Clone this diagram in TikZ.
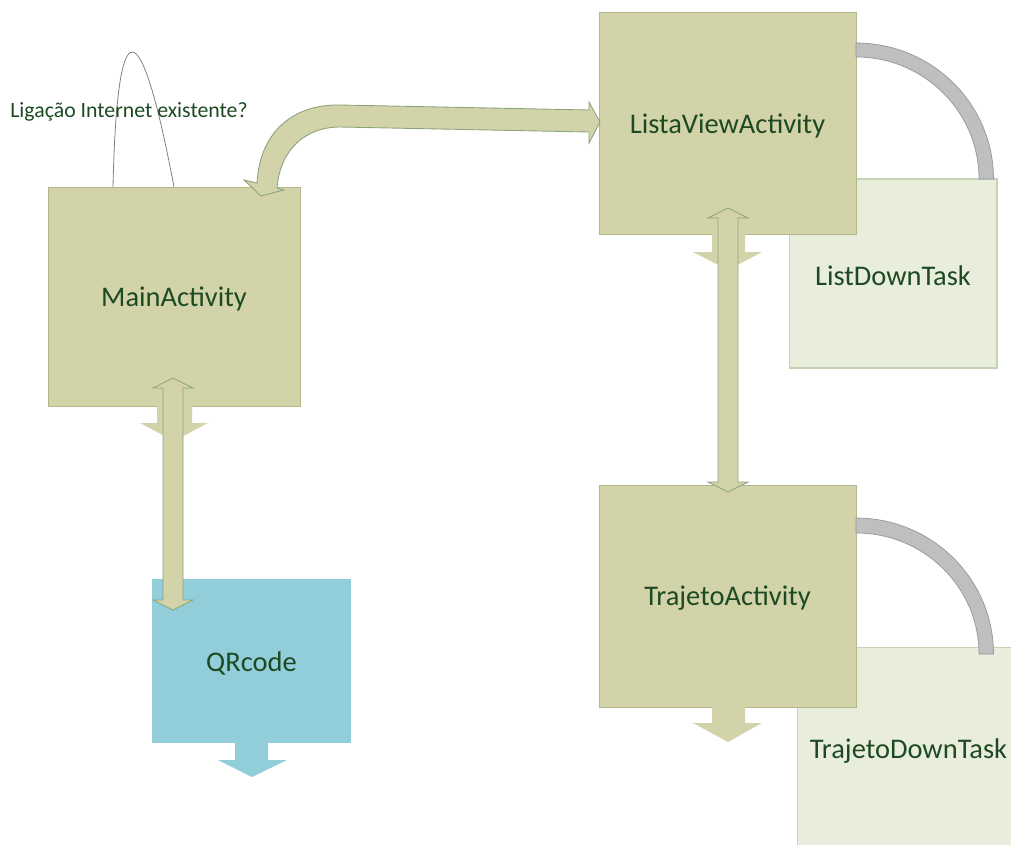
\documentclass[tikz,border=0pt]{standalone}
\usepackage{fontspec}
\setmainfont{Carlito}
\definecolor{olivefill}{HTML}{D2D3A9}
\definecolor{oliveline}{HTML}{B4B68C}
\definecolor{qrfill}{HTML}{92CDDA}
\definecolor{taskfill}{HTML}{E8EEDB}
\definecolor{taskline}{HTML}{C3D4B2}
\definecolor{arcfill}{HTML}{BFBFBF}
\definecolor{arcline}{HTML}{8E99A6}
\definecolor{arrowline}{HTML}{8CA47C}
\definecolor{txt}{HTML}{1D4A22}
\newcommand\lowtxt[1]{\raisebox{-1.4pt}[\height][\depth]{#1}}
\begin{document}
\begin{tikzpicture}[x=0.02cm,y=-0.02cm,
  lbl/.style={text=txt,font=\fontsize{16.2}{19}\selectfont,inner sep=0pt},
  olivebox/.style={lbl,rectangle,fill=olivefill,draw=oliveline,line width=0.4pt},
  qrbox/.style={lbl,rectangle,fill=qrfill},
  taskbox/.style={lbl,rectangle,fill=taskfill,draw=taskline,line width=0.6pt},
  stubolive/.style={fill=olivefill},
  stubqr/.style={fill=qrfill},
  blockarrow/.style={fill=olivefill,draw=arrowline,line width=0.5pt,line join=miter},
  ring/.style={fill=arcfill,draw=arcline,line width=0.4pt},
  loopline/.style={draw=gray,line width=0.45pt}]
\useasboundingbox (0,0) rectangle (1011,845);
\clip (0,0) rectangle (1011,845);

% task boxes (behind)
\node[taskbox,minimum width=4.16cm,minimum height=3.78cm] (listdown) at (893,273.5) {\lowtxt{ListDownTask}};
\node[taskbox,minimum width=4.46cm,minimum height=4.26cm,text depth=0pt] (trajdown) at (908.5,753.5) {\raisebox{5pt}{TrajetoDownTask}};

% olive boxes and QR box
\node[olivebox,minimum width=5.04cm,minimum height=4.38cm] (main) at (174,296.5) {\lowtxt{MainActivity}};
\node[olivebox,minimum width=5.14cm,minimum height=4.44cm] (lista) at (727.5,123) {\lowtxt{ListaViewActivity}};
\node[olivebox,minimum width=5.14cm,minimum height=4.44cm] (traj) at (727.5,596) {\lowtxt{TrajetoActivity}};
\node[qrbox,minimum width=3.98cm,minimum height=3.28cm] (qr) at (251.5,661) {\lowtxt{QRcode}};

% down-arrow stubs attached to boxes
\fill[stubolive] (157,405) -- (157,423) -- (140,423) -- (174,441) -- (208,423) -- (192,423) -- (192,405) -- cycle;
\fill[stubolive] (712,233) -- (712,252) -- (693,252) -- (728,270) -- (762,252) -- (745,252) -- (745,233) -- cycle;
\fill[stubolive] (712,706) -- (712,723) -- (693,723) -- (728,742) -- (762,723) -- (745,723) -- (745,706) -- cycle;
\fill[stubqr] (235,742) -- (235,760) -- (218,760) -- (252,777) -- (287,760) -- (268,760) -- (268,742) -- cycle;

% grey quarter rings
\draw[ring] (856,43) arc[start angle=-90,end angle=0,x radius=137.5,y radius=136]
  -- (979,179) arc[start angle=0,end angle=-90,x radius=123,y radius=122] -- cycle;
\draw[ring] (856,518) arc[start angle=-90,end angle=0,x radius=137.5,y radius=136]
  -- (979,654) arc[start angle=0,end angle=-90,x radius=123,y radius=121] -- cycle;

% double arrows
\draw[blockarrow] (173,378) -- (193,388) -- (183,388) -- (183,600) -- (193,600) -- (173,610)
  -- (153,600) -- (163,600) -- (163,388) -- (153,388) -- cycle;
\draw[blockarrow] (728,208) -- (748,218) -- (738,218) -- (738,482) -- (748,482) -- (728,492)
  -- (708,482) -- (718,482) -- (718,218) -- (708,218) -- cycle;

% curved arrow between MainActivity and ListaViewActivity
\draw[blockarrow] (589,110) -- (340,105) .. controls (295,104) and (260,130) .. (257,183)
  -- (244,180) -- (261,196) -- (284,190) -- (277,188)
  .. controls (280,150) and (305,127) .. (340,127)
  -- (589,132) -- (589,143) -- (600,122) -- (589,102) -- cycle;

% self loop on MainActivity
\coordinate (loopL) at (113,187);
\coordinate (loopR) at (174,187);
\draw[loopline] (loopL) .. controls (117,7) and (140,7) .. (loopR);
\node[lbl,font=\fontsize{12.4}{15}\selectfont] (question) at (129,112) {Ligação Internet existente?};
\end{tikzpicture}
\end{document}
